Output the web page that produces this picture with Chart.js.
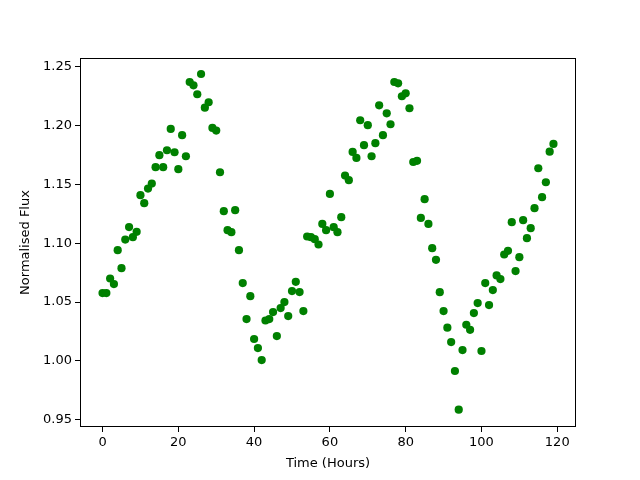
<!DOCTYPE html>
<html><head><meta charset="utf-8">
<script src="https://cdn.jsdelivr.net/npm/chart.js@4/dist/chart.umd.min.js"></script>
<style>html,body{margin:0;padding:0;background:#fff}#wrap{width:640px;height:480px}</style>
</head><body><div id="wrap"><canvas id="c" width="640" height="480"></canvas></div>
<script>
const hours = Array.from({length:120},(_,i)=>i);
const flux = [
1.0576,1.0576,1.0700,1.0653,1.0941,1.0788,1.1031,1.1137,1.1051,1.1097,
1.1408,1.1340,1.1464,1.1507,1.1646,1.1748,1.1646,1.1790,1.1971,1.1773,
1.1629,1.1918,1.1739,1.2370,1.2342,1.2266,1.2438,1.2152,1.2198,1.1980,
1.1957,1.1603,1.1272,1.1111,1.1094,1.1281,1.0941,1.0661,1.0355,1.0550,
1.0186,1.0109,1.0007,1.0343,1.0355,1.0415,1.0211,1.0449,1.0500,1.0381,
1.0593,1.0672,1.0585,1.0423,1.1057,1.1051,1.1034,1.0989,1.1164,1.1111,
1.1419,1.1136,1.1094,1.1221,1.1575,1.1536,1.1776,1.1725,1.2045,1.1833,
1.2003,1.1739,1.1850,1.2172,1.1918,1.2104,1.2011,1.2370,1.2359,1.2249,
1.2274,1.2147,1.1690,1.1700,1.1215,1.1374,1.1164,1.0958,1.0859,1.0584,
1.0423,1.0282,1.0160,0.9914,0.9585,1.0092,1.0307,1.0264,1.0406,1.0491,
1.0084,1.0661,1.0474,1.0602,1.0726,1.0695,1.0904,1.0935,1.1179,1.0763,
1.0881,1.1196,1.1043,1.1128,1.1298,1.1637,1.1391,1.1518,1.1778,1.1844];
const xTicks = [0,20,40,60,80,100,120];
const yTicks = [0.95,1.00,1.05,1.10,1.15,1.20,1.25];

const FONT = {family:'"DejaVu Sans", sans-serif', size:13};
const frame = {id:'frame', afterDraw(ch){const a=ch.chartArea,c=ch.ctx;c.save();c.strokeStyle='#000';c.lineWidth=1;
 c.strokeRect(Math.round(a.left)+0.5,Math.round(a.top)+0.5,Math.round(a.right-a.left)-1,Math.round(a.bottom-a.top)-1);c.restore();}};

new Chart(document.getElementById('c'),{
 type:'scatter',
 data:{datasets:[{data:hours.map((h,i)=>({x:h,y:flux[i]})),backgroundColor:'#008000',borderWidth:0,pointRadius:4.1,pointHoverRadius:4.1}]},
 options:{responsive:false,animation:false,devicePixelRatio:1,
  layout:{padding:{top:58,right:64,left:0,bottom:0}},
  plugins:{legend:{display:false},tooltip:{enabled:false}},
  scales:{
   x:{type:'linear',min:-5.95,max:124.95,
     afterFit(s){s.height=53;},
     afterBuildTicks(s){s.ticks=xTicks.map(v=>({value:v}));},
     grid:{display:true,drawOnChartArea:false,drawTicks:true,tickLength:5,color:'#000',tickColor:'#000'},
     border:{display:false},
     ticks:{color:'#000',font:FONT,padding:3,maxRotation:0,callback:v=>String(v)},
     title:{display:true,text:'Time (Hours)',color:'#000',font:FONT,padding:{top:2,bottom:9}}},
   y:{type:'linear',min:0.9438,max:1.2574,
     afterFit(s){s.width=80;},
     afterBuildTicks(s){s.ticks=yTicks.map(v=>({value:v}));},
     grid:{display:true,drawOnChartArea:false,drawTicks:true,tickLength:5,color:'#000',tickColor:'#000'},
     border:{display:false},
     ticks:{color:'#000',font:FONT,padding:3,callback:v=>v.toFixed(2)},
     title:{display:true,text:'Normalised Flux',color:'#000',font:FONT,padding:{top:18,bottom:4}}}
  }},
 plugins:[frame]
});
</script></body></html>
